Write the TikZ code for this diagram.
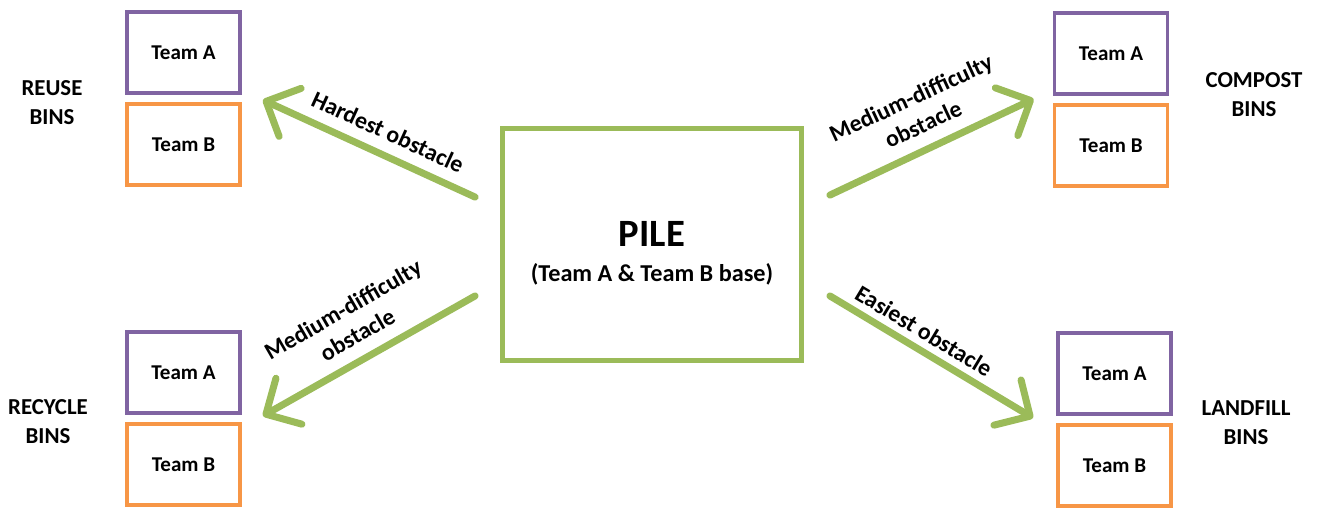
\documentclass[tikz,border=0pt]{standalone}
\usepackage{fontspec}
\setmainfont{Carlito}
\usepackage{tikz}
\usepackage{xcolor}
\usetikzlibrary{arrows.meta, positioning}
\definecolor{binpurple}{HTML}{8064A2}
\definecolor{binorange}{HTML}{F79646}
\definecolor{pilegreen}{HTML}{9BBB59}

\begin{document}
\begin{tikzpicture}[x=0.02cm, y=-0.02cm, node distance=1.84cm, on grid, font=\bfseries,
    bin/.style={rectangle, draw, line width=2.2pt, minimum width=2.26cm, minimum height=1.62cm, font=\bfseries\fontsize{12}{14}\selectfont},
    teamA/.style={bin, draw=binpurple},
    teamB/.style={bin, draw=binorange},
    binlabel/.style={align=center, font=\bfseries\fontsize{13}{16.5}\selectfont},
    obstacle/.style={align=center, font=\bfseries\fontsize{13.5}{16.5}\selectfont},
    move/.style={draw=pilegreen, line width=4pt, line cap=round, -{Straight Barb[length=15pt, width=30pt, round]}}]

            \useasboundingbox (0,0) rectangle (1317,508);

            \node[rectangle, draw=pilegreen, line width=2.8pt, minimum width=5.98cm, minimum height=4.64cm, align=center] (PILE) at (652,244.5)
                {{\fontsize{22}{26}\selectfont\rule{0pt}{24pt}PILE}\\[8pt]{\fontsize{13.8}{16}\selectfont (Team A \& Team B base)}};

            \node[teamA] (RA) at (183.5,52.5) {Team A};
            \node[teamB, below=of RA] (RB) {Team B};
            \node[teamA] (CA) at (1111,53.5) {Team A};
            \node[teamB, below=of CA] (CB) {Team B};
            \node[teamA] (YA) at (183.5,372.5) {Team A};
            \node[teamB, below=of YA] (YB) {Team B};
            \node[teamA] (LA) at (1114.5,373.5) {Team A};
            \node[teamB, below=of LA] (LB) {Team B};

            \node[binlabel] (RL) at (52,103) {REUSE\\BINS};
            \node[binlabel] (CL) at (1254,95) {COMPOST\\BINS};
            \node[binlabel] (YL) at (48,422) {RECYCLE\\BINS};
            \node[binlabel] (LL) at (1246,423) {LANDFILL\\BINS};

            \draw[move] ([shift={(-25,71)}]PILE.north west) -- ([shift={(21,5)}]RA.south east);
            \draw[move] ([shift={(26,69)}]PILE.north east) -- ([shift={(-19,3)}]CA.south west);
            \draw[move] ([shift={(-25,-67)}]PILE.south west) -- ([shift={(21,1)}]YA.south east);
            \draw[move] ([shift={(26,-67)}]PILE.south east) -- ([shift={(-23,2)}]LA.south west);

            \node[obstacle, rotate=-24.6] (HARD) at (388,132) {Hardest obstacle};
            \node[obstacle, rotate=25] (MEDC) at (917,111) {Medium-difficulty\\obstacle};
            \node[obstacle, rotate=30] (MEDY) at (350,322) {Medium-difficulty\\obstacle};
            \node[obstacle, rotate=-31] (EASY) at (924,331) {Easiest obstacle};

\end{tikzpicture}
\end{document}
